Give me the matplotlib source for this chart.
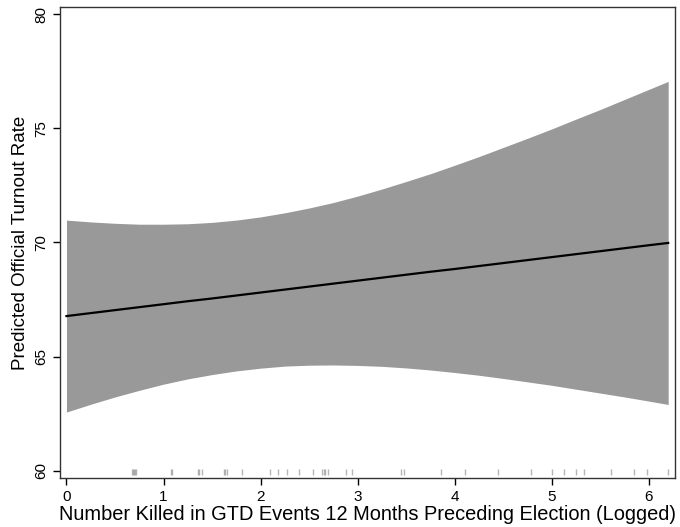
import numpy as np
import matplotlib
matplotlib.use('Agg')
import matplotlib.pyplot as plt

plt.rcParams['font.family'] = ['Liberation Sans', 'DejaVu Sans']

# predicted turnout and 95% band
killed_log = [0.0, 0.25, 0.5, 0.75, 1.0, 1.25, 1.5, 1.75, 2.0, 2.25, 2.5, 2.75,
              3.0, 3.25, 3.5, 3.75, 4.0, 4.25, 4.5, 4.75, 5.0, 5.25, 5.5, 5.75,
              6.0, 6.2]
predicted = [66.78, 66.91, 67.04, 67.17, 67.30, 67.43, 67.55, 67.68, 67.81, 67.94,
             68.07, 68.20, 68.33, 68.46, 68.59, 68.72, 68.84, 68.97, 69.10, 69.23,
             69.36, 69.49, 69.62, 69.75, 69.88, 69.98]
upper = [70.98, 70.90, 70.84, 70.80, 70.80, 70.82, 70.88, 70.98, 71.12, 71.30,
         71.51, 71.75, 72.03, 72.34, 72.67, 73.01, 73.38, 73.76, 74.16, 74.56,
         74.97, 75.40, 75.82, 76.26, 76.70, 77.05]
lower = [62.58, 62.92, 63.24, 63.53, 63.80, 64.03, 64.22, 64.38, 64.50, 64.59,
         64.63, 64.64, 64.62, 64.58, 64.51, 64.42, 64.31, 64.19, 64.05, 63.90,
         63.75, 63.58, 63.41, 63.24, 63.06, 62.91]

# observed values shown as rug along the x axis
rug = [0.675, 0.685, 0.695, 0.705, 0.716, 1.073, 1.090, 1.351, 1.368, 1.393,
       1.619, 1.636, 1.653, 1.808, 2.096, 2.175, 2.271, 2.398, 2.539,
       2.635, 2.649, 2.663, 2.691, 2.879, 2.938, 3.446, 3.480, 3.858,
       4.105, 4.442, 4.782, 4.998, 5.128, 5.248, 5.332, 5.616, 5.849,
       5.977, 6.199]

fig = plt.figure(figsize=(6.8, 5.27), dpi=100)
ax = fig.add_axes([0.0882, 0.0924, 0.9044, 0.8949])

ax.fill_between(killed_log, lower, upper, color='#999999', linewidth=0)
ax.plot(killed_log, predicted, color='black', linewidth=1.6)
ax.vlines(rug, 59.83, 60.09, color='#7a7a7a', alpha=0.55, linewidth=1.0)

ax.set_xlim(-0.067, 6.27)
ax.set_ylim(59.68, 80.32)
ax.set_xticks(range(0, 7))
ax.set_yticks([60, 65, 70, 75, 80])
ax.tick_params(axis='both', direction='out', length=5, width=1, labelsize=11, colors='black')
for lab in ax.get_yticklabels():
    lab.set_rotation(90)
    lab.set_va('center')
for sp in ax.spines.values():
    sp.set_linewidth(1)
    sp.set_color('#333333')

ax.set_xlabel('Number Killed in GTD Events 12 Months Preceding Election (Logged)', fontsize=14.4, labelpad=1)
ax.set_ylabel('Predicted Official Turnout Rate', fontsize=13.5, labelpad=4)

fig.savefig('out.png', dpi=100)
